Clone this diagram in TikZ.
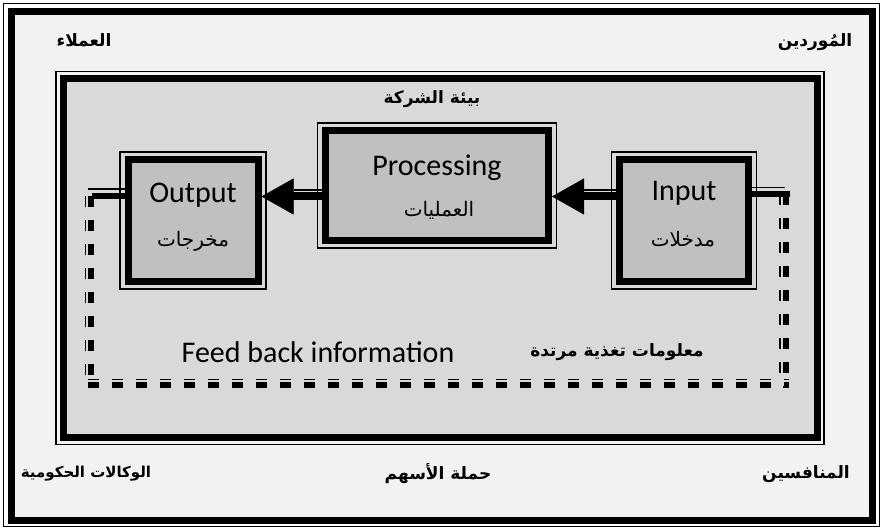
\documentclass[tikz,border=0pt]{standalone}
\usepackage{fontspec}
\setmainfont{Carlito}
\newfontfamily\arabicfont[Script=Arabic]{DejaVu Sans}
\TeXXeTstate=1
\usetikzlibrary{arrows.meta,calc}
\definecolor{bgA}{HTML}{F2F2F2}
\definecolor{bgB}{HTML}{D9D9D9}
\definecolor{boxC}{HTML}{C0C0C0}
\newcommand{\artxt}[1]{\beginR #1\endR}
\begin{document}
\begin{tikzpicture}[x=1pt,y=-1pt,
  thinln/.style={line width=1.2pt},
  boxnode/.style={draw, line width=7pt, fill=boxC, inner sep=0pt},
  arlab/.style={font=\arabicfont\bfseries\fontsize{17}{20}\selectfont, inner sep=0pt},
  arin/.style={font=\arabicfont\fontsize{20}{24}\selectfont, inner sep=0pt},
  en/.style={font=\fontsize{30}{36}\selectfont, inner sep=0pt},
  shaft/.style={line width=8pt, -{Triangle[length=32pt,width=36pt,line width=0.4pt]}},
  fbthick/.style={line width=6.5pt, dash pattern=on 11pt off 13pt},
  fbthin/.style={line width=1.5pt, dash pattern=on 11pt off 13pt},
]
\useasboundingbox (0,0) rectangle (882,529);
% outer frame
\fill[white] (0,0) rectangle (882,529);
\fill[bgA] (11.5,11.5) rectangle (872,520.5);
\draw[thinln] (3.5,3.5) rectangle (879.5,526.5);
\draw[line width=7pt] (11.5,11.5) rectangle (872,520.5);
% company environment box
\fill[bgB] (63,78.5) rectangle (817,437.5);
\draw[thinln] (56,71.5) rectangle (824,444.5);
\draw[line width=7pt] (63,78.5) rectangle (817,437.5);

% corner labels
\node[arlab] (cust) at (84,40) {\artxt{العملاء}};
\node[arlab] (supp) at (815,42) {\artxt{المُوردين}};
\node[arlab, font=\arabicfont\bfseries\fontsize{15}{18}\selectfont] (gov) at (86,474) {\artxt{الوكالات الحكومية}};
\node[arlab] (share) at (438,474) {\artxt{حملة الأسهم}};
\node[arlab] (comp) at (806,474) {\artxt{المنافسين}};
\node[arlab] (env)  at (432,99) {\artxt{بيئة الشركة}};

% process boxes
\node[boxnode, minimum width=130pt, minimum height=121pt] (out)  at (193,220.5) {};
\node[boxnode, minimum width=223pt, minimum height=109pt] (proc) at (437,185.5) {};
\node[boxnode, minimum width=129pt, minimum height=121pt] (inp)  at (684,220.5) {};
\foreach \n in {out,proc,inp}
  \draw[thinln] ([shift={(-4.5pt,4.5pt)}]\n.north west) rectangle ([shift={(4.5pt,-4.5pt)}]\n.south east);

\node[en] (tout) at (193,195) {Output};
\node[arin] (aout) at (193,241) {\artxt{مخرجات}};
\node[en] (tproc) at (437,168) {Processing};
\node[arin] (aproc) at (439,210) {\artxt{العمليات}};
\node[en] (tinp) at (684,193) {Input};
\node[arin] (ainp) at (683,239) {\artxt{مدخلات}};

% arrows
\coordinate (ay) at (0,196.5);
\coordinate (ayt) at (0,190);
\draw[shaft] (proc.west |- ay) -- (out.east |- ay);
\draw[thinln, shorten >=32pt] (proc.west |- ayt) -- (out.east |- ayt);
\draw[shaft] (inp.west |- ay) -- (proc.east |- ay);
\draw[thinln, shorten >=32pt] (inp.west |- ayt) -- (proc.east |- ayt);

% feedback loop
\coordinate (sl) at (0,196);
\coordinate (slt) at (0,189);
\coordinate (sr) at (0,194);
\coordinate (srt) at (0,187.5);
\coordinate (fbL) at (92,196);
\coordinate (fbLt) at (88,189);
\coordinate (fbR) at (790,194);
\coordinate (fbRt) at (785,187.5);
\draw[line width=6pt] (out.west |- sl) -- (fbL);
\draw[thinln] (out.west |- slt) -- (fbLt);
\draw[line width=6pt] (inp.east |- sr) -- (fbR);
\draw[thinln] (inp.east |- srt) -- (fbRt);

\coordinate (c1) at (91,196);
\coordinate (c2) at (91,388);
\coordinate (c1t) at (85.5,196);
\coordinate (c2t) at (85.5,388);
\coordinate (b1) at (88,385);
\coordinate (b2) at (789,385);
\coordinate (b1t) at (88,379.5);
\coordinate (b2t) at (789,379.5);
\coordinate (r1) at (786,194);
\coordinate (r2) at (786,388);
\coordinate (r1t) at (780,194);
\coordinate (r2t) at (780,382);
\draw[fbthick] (c1) -- (c2);
\draw[fbthin] (c1t) -- (c2t);
\draw[fbthick] (b1) -- (b2);
\draw[fbthin] (b1t) -- (b2t);
\draw[fbthick] (r1) -- (r2);
\draw[fbthin] (r1t) -- (r2t);

\node[en] (fben) at (318,352) {Feed back information};
\node[arlab] (fbar) at (617,352) {\artxt{معلومات تغذية مرتدة}};
\end{tikzpicture}
\end{document}
